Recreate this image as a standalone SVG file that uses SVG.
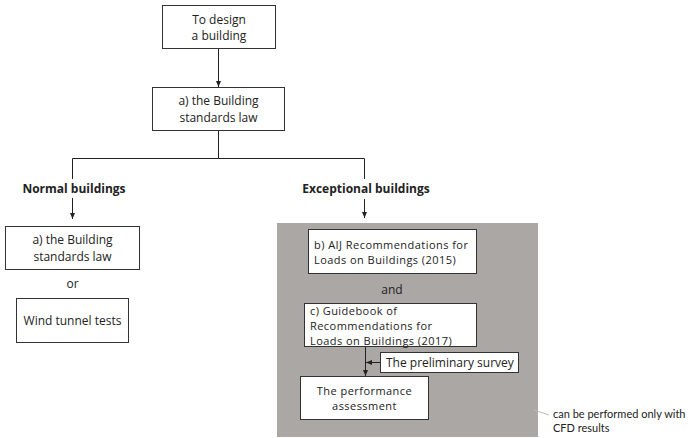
<svg xmlns="http://www.w3.org/2000/svg" width="691" height="438" viewBox="0 0 691 438">
<style>
.bx{fill:#fff;stroke:#333;stroke-width:1}
.t{font-family:"Open Sans","Noto Sans",sans-serif;font-size:12px;fill:#222}
.s{font-size:11px;letter-spacing:0.45px}
.c{text-anchor:middle}
.b{font-weight:bold}
.ln{stroke:#222;stroke-width:1;fill:none}
.note{font-family:Lato,"Liberation Sans",sans-serif;font-size:11px;fill:#222}
</style>
<defs>
<marker id="ah" viewBox="0 0 6 6" refX="6" refY="3" markerWidth="6" markerHeight="6" orient="auto" markerUnits="userSpaceOnUse">
<path d="M0,0.5 L6,3 L0,5.5 z" fill="#222"/>
</marker>
</defs>
<rect id="region" x="277" y="223" width="261" height="214" fill="#aba7a5"/>
<g id="connectors">
<line class="ln" x1="218.5" y1="49" x2="218.5" y2="87" marker-end="url(#ah)"/>
<polyline class="ln" points="218.5,131 218.5,158.5 72.5,158.5 72.5,179"/>
<polyline class="ln" points="218.5,158.5 364.5,158.5 364.5,179"/>
<line class="ln" x1="72.5" y1="198" x2="72.5" y2="219" marker-end="url(#ah)"/>
<line class="ln" x1="364.5" y1="199" x2="364.5" y2="218" marker-end="url(#ah)"/>
<line class="ln" x1="365.5" y1="347" x2="365.5" y2="376" marker-end="url(#ah)"/>
<line class="ln" x1="380" y1="362.5" x2="366" y2="362.5" marker-end="url(#ah)"/>
<line x1="534" y1="410" x2="549" y2="415" stroke="#bbb" stroke-width="1"/>
</g>
<g id="n-design">
<rect class="bx" x="162.5" y="5.5" width="113" height="43"/>
<text class="t c" x="219" y="24">To design</text>
<text class="t c" x="219" y="40">a building</text>
</g>
<g id="n-law">
<rect class="bx" x="152.5" y="87.5" width="132" height="43"/>
<text class="t c" x="218.5" y="105">a) the Building</text>
<text class="t c" x="218.5" y="122">standards law</text>
</g>
<g id="n-normal">
<text class="t c b" x="74" y="193">Normal buildings</text>
</g>
<g id="n-exceptional">
<text class="t c b" x="366" y="193">Exceptional buildings</text>
</g>
<g id="n-law2">
<rect class="bx" x="5.5" y="226.5" width="134" height="43"/>
<text class="t c" x="72.5" y="244">a) the Building</text>
<text class="t c" x="72.5" y="261">standards law</text>
</g>
<text class="t c" x="72.5" y="288">or</text>
<g id="n-wind">
<rect class="bx" x="16.5" y="298.5" width="112" height="44"/>
<text class="t c" x="72.5" y="325">Wind tunnel tests</text>
</g>
<g id="n-aij">
<rect class="bx" x="308.5" y="229.5" width="168" height="44"/>
<text class="t s" x="314" y="249">b) AIJ Recommendations for</text>
<text class="t s" x="314" y="264">Loads on Buildings (2015)</text>
</g>
<text class="t c" x="392" y="294">and</text>
<g id="n-guide">
<rect class="bx" x="304.5" y="303.5" width="172" height="43"/>
<text class="t s" x="310" y="315">c) Guidebook of</text>
<text class="t s" x="310" y="330">Recommendations for</text>
<text class="t s" x="310" y="345">Loads on Buildings (2017)</text>
</g>
<g id="n-survey">
<rect class="bx" x="380.5" y="352.5" width="138" height="20"/>
<text class="t" x="386" y="367">The preliminary survey</text>
</g>
<g id="n-perf">
<rect class="bx" x="300.5" y="376.5" width="128" height="43"/>
<text class="t c s" x="364.5" y="395">The performance</text>
<text class="t c s" x="364.5" y="410">assessment</text>
</g>
<g id="n-note">
<text class="note" x="553" y="418">can be performed only with</text>
<text class="note" x="553" y="432">CFD results</text>
</g>
</svg>
